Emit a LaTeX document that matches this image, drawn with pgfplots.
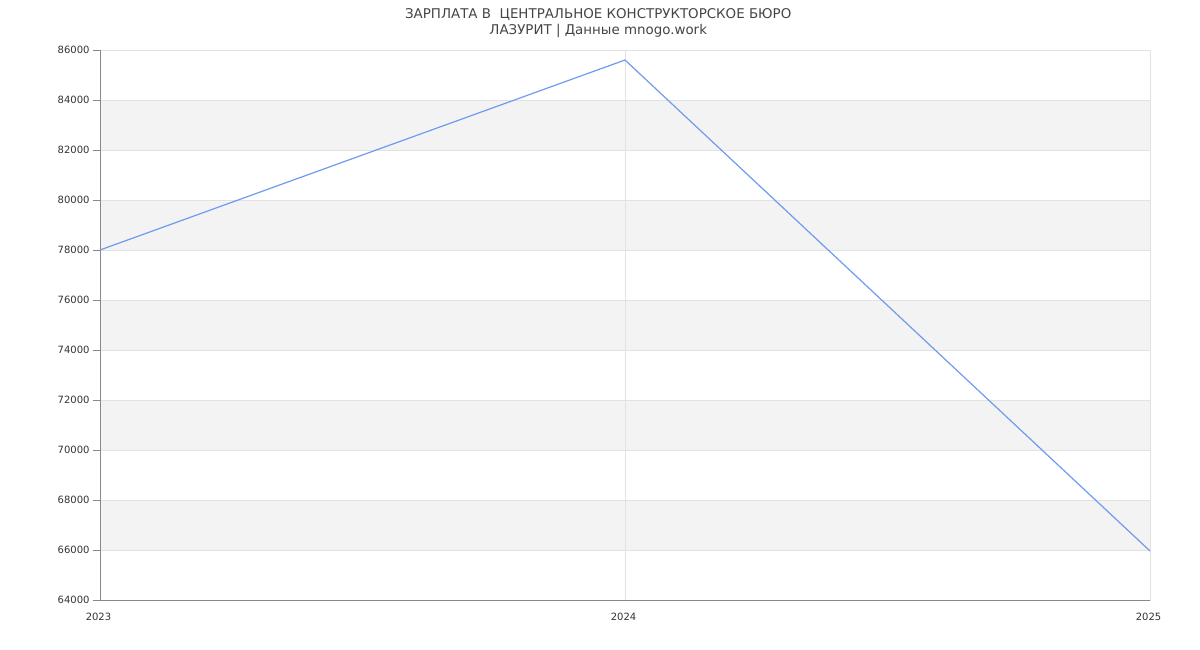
\documentclass[border=0pt]{standalone}
\usepackage{pgfplots}
\pgfplotsset{compat=1.18}
\usepackage{fontspec}
\setmainfont{DejaVu Sans}
\definecolor{linecol}{RGB}{110,155,240}
\definecolor{bandgray}{RGB}{243,243,243}
\definecolor{gridgray}{RGB}{226,226,226}
\definecolor{axisgray}{RGB}{136,136,136}
\definecolor{titlecol}{RGB}{68,68,68}
\definecolor{tickcol}{RGB}{51,51,51}
\begin{document}
\begin{tikzpicture}
\useasboundingbox (-100pt,-50pt) rectangle (1100pt,600pt);
\begin{axis}[
  at={(0pt,0pt)}, anchor=south west,
  scale only axis, width=1050pt, height=550pt,
  xmin=2023, xmax=2025, ymin=64000, ymax=86000,
  xtick={2023,2024,2025},
  ytick={64000,66000,...,86000},
  scaled ticks=false,
  /pgf/number format/1000 sep={},
  /pgf/number format/assume math mode=true,
  ticklabel style={font=\fontsize{10pt}{12pt}\selectfont, text=tickcol},
  xtick style={draw=none},
  ytick pos=left, tick align=outside, major tick length=7pt,
  ytick style={draw=axisgray, line width=0.8pt},
  yticklabel style={xshift=0pt},
  xticklabel style={yshift=-3pt, xshift=-1.5pt},
  axis line style={draw=gridgray, line width=0.8pt},
  clip=false,
]
\fill[bandgray] (axis cs:2023,66000) rectangle (axis cs:2025,68000);
\fill[bandgray] (axis cs:2023,70000) rectangle (axis cs:2025,72000);
\fill[bandgray] (axis cs:2023,74000) rectangle (axis cs:2025,76000);
\fill[bandgray] (axis cs:2023,78000) rectangle (axis cs:2025,80000);
\fill[bandgray] (axis cs:2023,82000) rectangle (axis cs:2025,84000);
\foreach \yy in {66000,68000,70000,72000,74000,76000,78000,80000,82000,84000,86000} {
  \edef\tmp{\noexpand\draw[gridgray, line width=0.8pt] (axis cs:2023,\yy) -- (axis cs:2025,\yy);}\tmp
}
\draw[gridgray, line width=0.8pt] (axis cs:2024,64000) -- (axis cs:2024,86000);
\draw[gridgray, line width=0.8pt] (axis cs:2025,64000) -- (axis cs:2025,86000);
\addplot[linecol, line width=1.2pt, mark=none] coordinates {
  (2023,78000) (2024,85600) (2025,65960)
};
\draw[axisgray, line width=0.8pt] (rel axis cs:0,1) -- (rel axis cs:0,0) -- (rel axis cs:1,0);
\node[text=titlecol, font=\fontsize{13.4pt}{16pt}\selectfont, align=center, anchor=center]
  at ([yshift=27pt]rel axis cs:0.4745,1) {ЗАРПЛАТА В\ \ ЦЕНТРАЛЬНОЕ КОНСТРУКТОРСКОЕ БЮРО\\ЛАЗУРИТ | Данные mnogo.work};
\end{axis}
\end{tikzpicture}
\end{document}
